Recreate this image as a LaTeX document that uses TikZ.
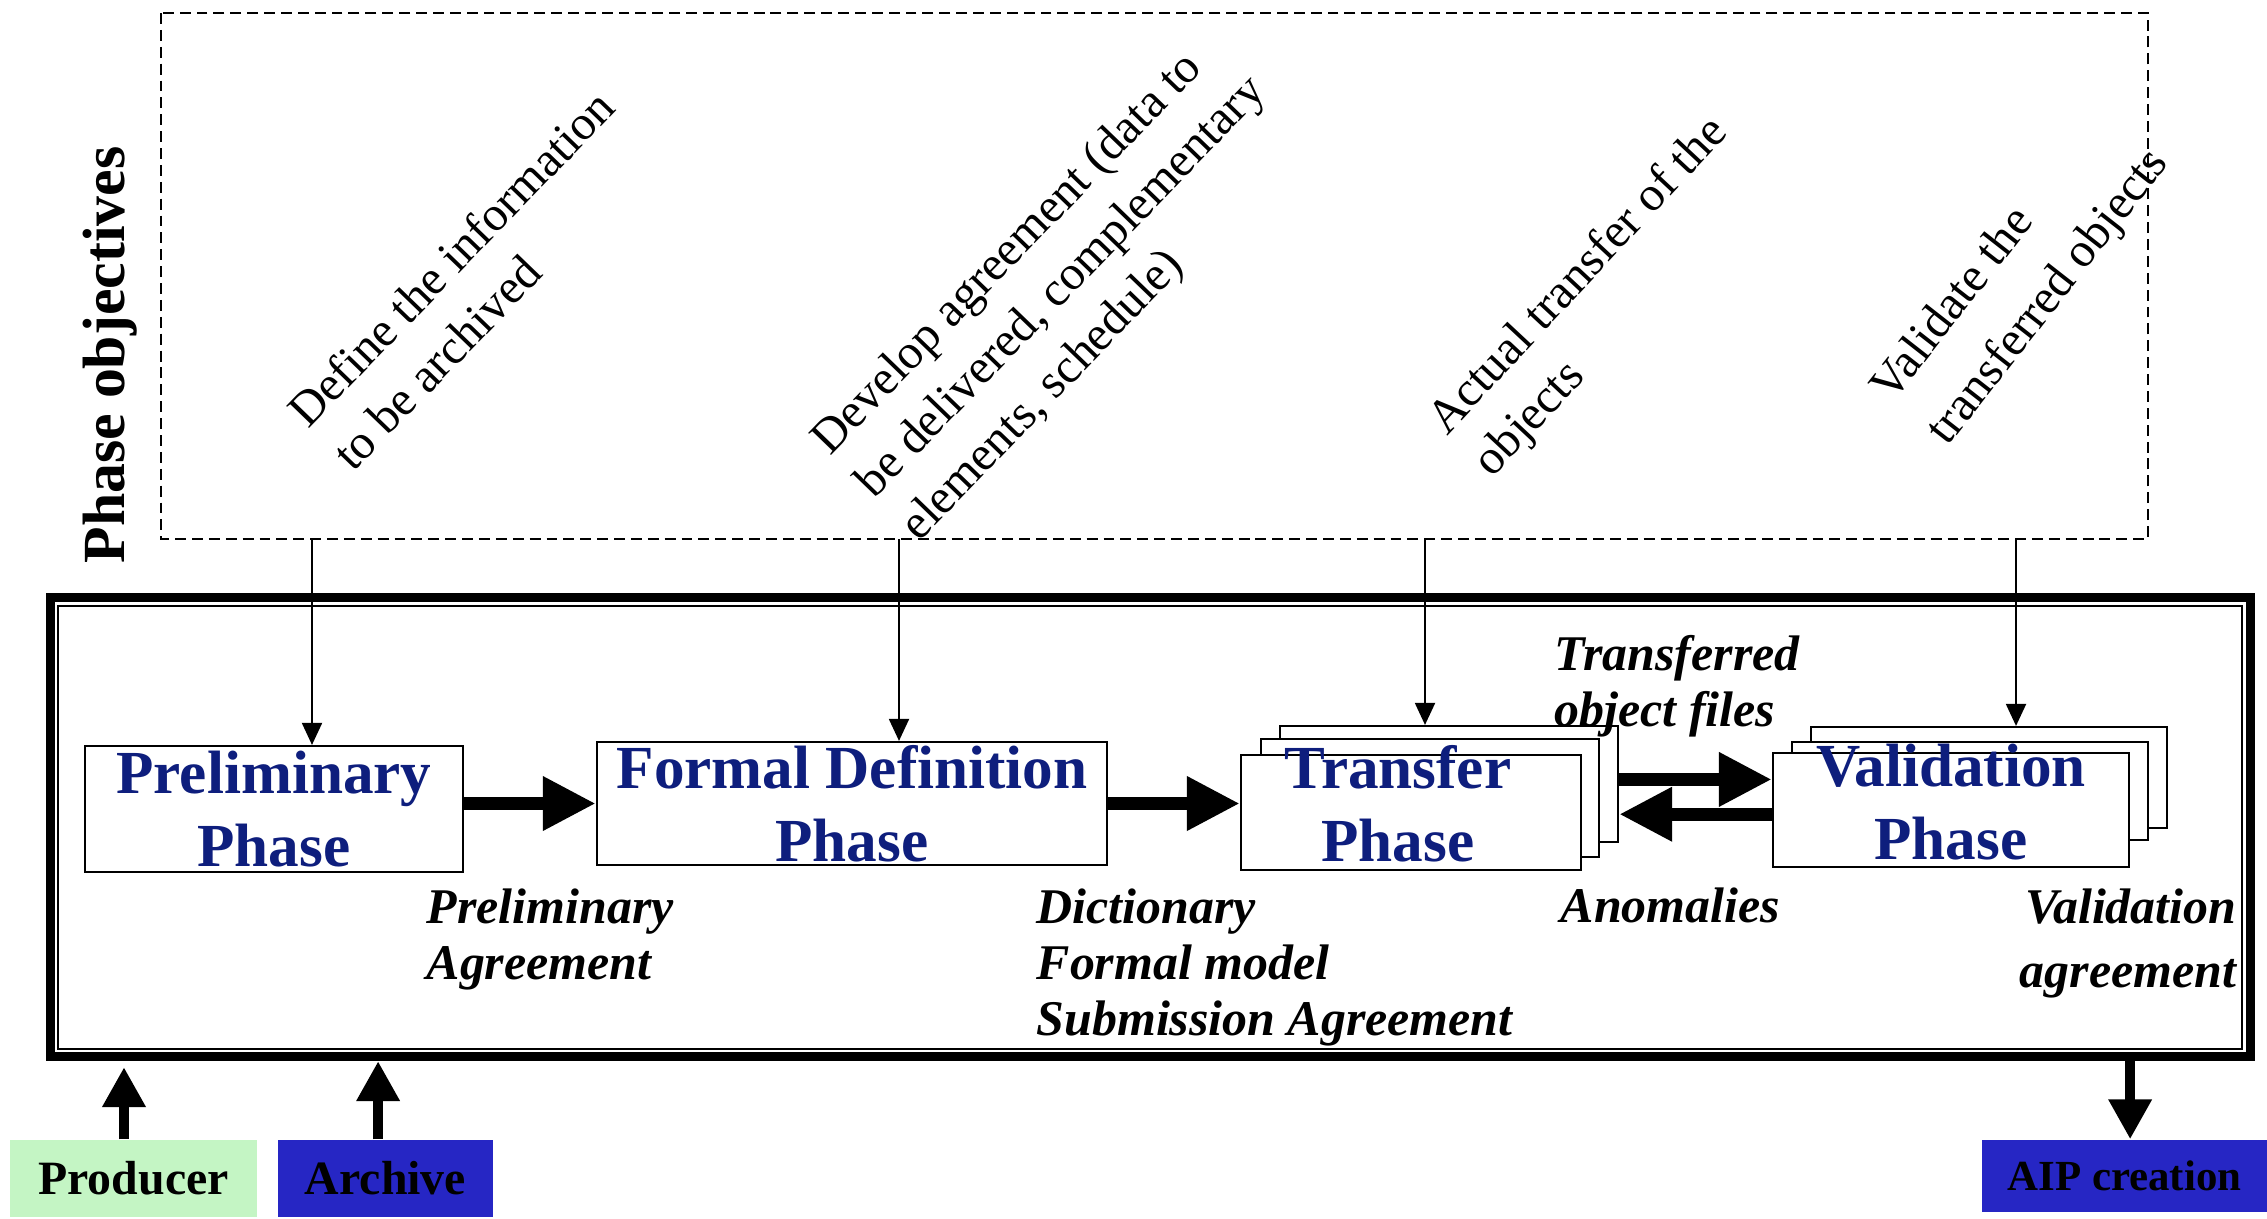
\documentclass[tikz,border=0pt]{standalone}
\usepackage{fontspec}
\setmainfont{Liberation Serif}
\usetikzlibrary{arrows.meta}

\definecolor{phaseblue}{RGB}{14,30,125}
\definecolor{producergreen}{RGB}{196,245,196}
\definecolor{archiveblue}{RGB}{38,38,196}

\tikzset{
  phasebox/.style={draw, line width=0.6pt, fill=white, inner sep=0pt, align=center,
    text=phaseblue, font=\bfseries\fontsize{17.4pt}{20.8pt}\selectfont},
  phasetext/.style={inner sep=0pt, align=center, text=phaseblue,
    font=\bfseries\fontsize{17.4pt}{20.8pt}\selectfont},
  sheetbox/.style={draw, line width=0.6pt, fill=white, inner sep=0pt},
  resulttext/.style={inner sep=0pt, align=left,
    font=\bfseries\itshape\fontsize{14.2pt}{15.9pt}\selectfont},
  goaltext/.style={rotate=46, anchor=north west, inner sep=0pt, align=left,
    font=\fontsize{13.8pt}{17.6pt}\selectfont},
  actorbox/.style={inner sep=0pt, font=\bfseries\fontsize{13.6pt}{16pt}\selectfont},
  flowarrow/.style={line width=3.7pt, -{Triangle[width=0.51cm,length=0.53cm]}},
  feedarrow/.style={line width=2.85pt, -{Triangle[width=0.41cm,length=0.40cm]}},
  goalarrow/.style={line width=0.55pt, -{Triangle[width=0.2cm,length=0.22cm]}}
}

\begin{document}
\begin{tikzpicture}[x=0.01cm, y=-0.01cm]
  \useasboundingbox (0,0) rectangle (2267,1218);

  % objectives
  \draw[line width=0.55pt, dash pattern=on 3.1pt off 1.7pt] (161,13) rectangle (2148,539);
  \node[rotate=90, inner sep=0pt, font=\bfseries\fontsize{17pt}{20pt}\selectfont] (objectives) at (110,355) {Phase objectives};

  \node[goaltext] (goal1) at (283,406) {Define the information\\to be archived};
  \node[goaltext] (goal2) at (805,433) {Develop agreement (data to\\be delivered, complementary\\elements, schedule)};
  \node[goaltext, rotate=1] (goal3) at (1421,413) {Actual transfer of the\\objects};
  \node[goaltext, rotate=6, font=\fontsize{13.8pt}{20pt}\selectfont] (goal4) at (1865,383) {Validate the\\transferred objects};

  % frame
  \node[draw, line width=2.56pt, inner sep=0pt, minimum width=21.985cm, minimum height=4.585cm] (frame) at (1150.75,827.25) {};
  \draw[line width=0.6pt] ([shift={(12,12.5)}]frame.north west) rectangle ([shift={(-13.5,-12.5)}]frame.south east);

  % phases
  \node[phasebox, minimum width=3.78cm, minimum height=1.26cm] (prelim) at (274,809) {Preliminary\\Phase};
  \node[phasebox, minimum width=5.10cm, minimum height=1.23cm] (formal) at (852,803.5) {Formal Definition\\Phase};

  \node[sheetbox, minimum width=3.38cm, minimum height=1.16cm] (transfer3) at (1449,784) {};
  \node[sheetbox, minimum width=3.38cm, minimum height=1.18cm] (transfer2) at (1430,798) {};
  \node[sheetbox, minimum width=3.40cm, minimum height=1.15cm] (transfer) at (1411,812.5) {};
  \node[phasetext] (transfertext) at ([xshift=-3.7pt, yshift=2.4pt]transfer.center) {Transfer\\Phase};

  \node[sheetbox, minimum width=3.56cm, minimum height=1.01cm] (valid3) at (1989,777.5) {};
  \node[sheetbox, minimum width=3.56cm, minimum height=0.98cm] (valid2) at (1970,791) {};
  \node[sheetbox, minimum width=3.56cm, minimum height=1.14cm] (valid) at (1951,810) {};
  \node[phasetext] (validtext) at ([yshift=2.2pt]valid.center) {Validation\\Phase};

  \draw[flowarrow] (prelim.east |- formal.west) -- (formal.west);
  \draw[flowarrow] (formal.east) -- (formal.east -| transfer.west);
  \coordinate (there) at ([yshift=1.3pt]transfer3.east);
  \coordinate (back) at ([yshift=-1.2pt]valid.west);
  \draw[flowarrow] (there) -- (there -| valid.west);
  \draw[flowarrow] (back) -- (back -| transfer3.east);

  \coordinate (g1) at (312,539);
  \coordinate (g2) at (899,539);
  \coordinate (g3) at (1425,539);
  \coordinate (g4) at (2016,539);
  \draw[goalarrow] (g1) -- (g1 |- prelim.north);
  \draw[goalarrow] (g2) -- (g2 |- formal.north);
  \draw[goalarrow] (g3) -- (g3 |- transfer3.north);
  \draw[goalarrow] (g4) -- (g4 |- valid3.north);

  % results
  \node[resulttext, anchor=north west] (prelimres) at (426,888) {Preliminary\\Agreement};
  \node[resulttext, anchor=north west] (formalres) at (1036,888) {Dictionary\\Formal model\\Submission Agreement};
  \node[resulttext, anchor=north west] (files) at (1554,635) {Transferred\\object files};
  \node[resulttext, anchor=base west] (anomalies) at (1560,922) {Anomalies};
  \node[resulttext, anchor=north east, align=right, font=\bfseries\itshape\fontsize{14.2pt}{18.2pt}\selectfont] (validres) at (2237,888) {Validation\\agreement};

  % actors
  \node[actorbox, fill=producergreen, minimum width=2.47cm, minimum height=0.77cm] (producer) at (133.5,1178.5) {Producer};
  \node[actorbox, fill=archiveblue, minimum width=2.15cm, minimum height=0.77cm] (archive) at (385.5,1178.5) {Archive};
  \node[actorbox, fill=archiveblue, minimum width=2.85cm, minimum height=0.72cm, font=\bfseries\fontsize{12.2pt}{14pt}\selectfont] (aip) at (2124.5,1176) {AIP creation};

  \coordinate (p) at ([xshift=-2.7pt]producer.north);
  \coordinate (a) at ([xshift=-2.1pt]archive.north);
  \coordinate (c) at ([xshift=1.6pt]aip.north);
  \draw[feedarrow, shorten >=1.7pt] (p) -- (p |- frame.south);
  \draw[feedarrow] (a) -- (a |- frame.south);
  \draw[feedarrow] (c |- frame.south) -- (c);
\end{tikzpicture}
\end{document}
